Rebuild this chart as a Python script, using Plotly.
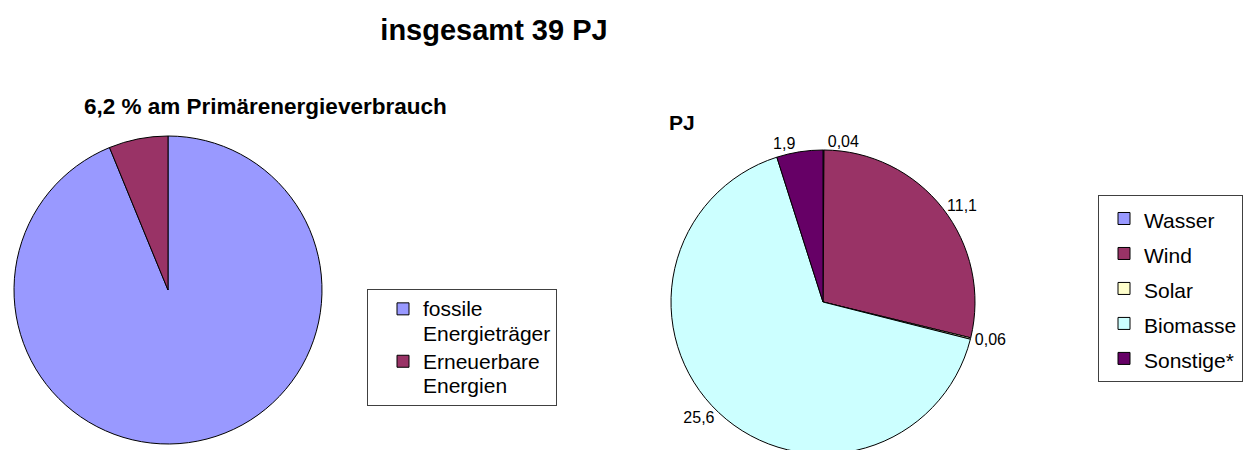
import plotly.graph_objects as go

W, H = 1260, 450
OFF = 8  # page body margin in front of the figure
FONT = "Liberation Sans, Arial, sans-serif"

# Left pie: share of primary energy consumption (%)
share_labels = ["fossile Energieträger", "Erneuerbare Energien"]
share_values = [93.8, 6.2]
share_colors = ["#9999FF", "#993366"]

# Right pie: renewables in PJ
re_labels = ["Wasser", "Wind", "Solar", "Biomasse", "Sonstige*"]
re_values = [0.04, 11.1, 0.06, 25.6, 1.9]
re_colors = ["#9999FF", "#993366", "#FFFFCC", "#CCFFFF", "#660066"]


def legend_label(text, size=21):
    # legend text at its own size, line spacing comes from the legend font
    return "<br>".join(f'<span style="font-size:{size}px">{w}</span>' for w in text.split(" "))


def px_x(x):
    return (x - OFF) / W


def px_y(y):
    return 1 - (y - OFF) / H


fig = go.Figure()

fig.add_trace(go.Pie(
    labels=[legend_label(l) for l in share_labels],
    values=share_values,
    marker=dict(colors=share_colors, line=dict(color="black", width=1)),
    sort=False,
    direction="clockwise",
    textinfo="none",
    hoverinfo="skip",
    domain=dict(x=[px_x(13), px_x(323)], y=[px_y(444), px_y(136)]),
    legend="legend",
))

fig.add_trace(go.Pie(
    labels=[legend_label(l) for l in re_labels],
    values=re_values,
    marker=dict(colors=re_colors, line=dict(color="black", width=1)),
    sort=False,
    direction="clockwise",
    textinfo="value",
    textposition="outside",
    outsidetextfont=dict(size=16, color="black", family=FONT),
    hoverinfo="skip",
    domain=dict(x=[px_x(671), px_x(975)], y=[px_y(454), px_y(150)]),
    legend="legend2",
))

fig.add_annotation(text="<b>6,2 % am Primärenergieverbrauch</b>", x=px_x(265), y=px_y(107),
                   xref="paper", yref="paper", xanchor="center", yanchor="middle",
                   showarrow=False, font=dict(size=22.5, color="black", family=FONT))
fig.add_annotation(text="<b>PJ</b>", x=px_x(667), y=px_y(123),
                   xref="paper", yref="paper", xanchor="left", yanchor="middle",
                   showarrow=False, font=dict(size=21, color="black", family=FONT))

fig.update_layout(
    width=W, height=H,
    margin=dict(l=0, r=0, t=0, b=0),
    paper_bgcolor="white",
    plot_bgcolor="white",
    separators=",.",
    font=dict(family=FONT, color="black"),
    title=dict(text="<b>insgesamt 39 PJ</b>", x=px_x(494), xanchor="center",
               y=px_y(30), yanchor="middle", font=dict(size=29, color="black", family=FONT)),
    legend=dict(x=px_x(367), y=px_y(289), xanchor="left", yanchor="top",
                bordercolor="#404040", borderwidth=1, bgcolor="white", indentation=15,
                font=dict(size=19, family=FONT, color="black"), valign="top"),
    legend2=dict(x=px_x(1098), y=px_y(195), xanchor="left", yanchor="top",
                 bordercolor="#404040", borderwidth=1, bgcolor="white", indentation=5,
                 font=dict(size=24.6, family=FONT, color="black")),
)

fig.write_html("out.html")
